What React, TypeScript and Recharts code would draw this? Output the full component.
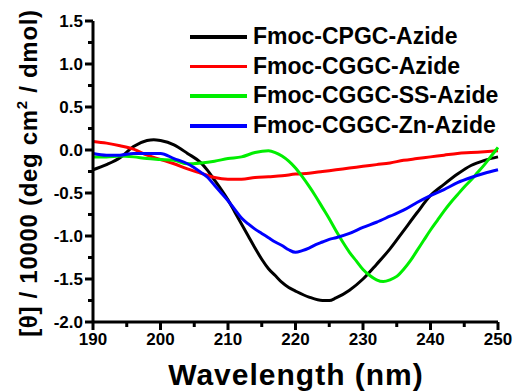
import React from 'react';
import { LineChart, Line, XAxis, YAxis, Legend } from 'recharts';

const seriesNames = ['Fmoc-CPGC-Azide', 'Fmoc-CGGC-Azide', 'Fmoc-CGGC-SS-Azide', 'Fmoc-CGGC-Zn-Azide'];
const seriesColors = ['#000000', '#ff0000', '#00ee00', '#0000ff'];

const cpgc = [
  { x: 190, y: -0.23 }, { x: 192, y: -0.17 }, { x: 194, y: -0.09 }, { x: 196, y: 0.04 }, { x: 198, y: 0.11 },
  { x: 199, y: 0.12 }, { x: 200, y: 0.11 }, { x: 202, y: 0.06 }, { x: 204, y: -0.04 }, { x: 206, y: -0.15 },
  { x: 207, y: -0.24 }, { x: 208, y: -0.35 }, { x: 209, y: -0.46 }, { x: 210, y: -0.58 }, { x: 211, y: -0.72 },
  { x: 212, y: -0.86 }, { x: 213, y: -1.0 }, { x: 214, y: -1.14 }, { x: 215, y: -1.27 }, { x: 216, y: -1.38 },
  { x: 217, y: -1.46 }, { x: 218, y: -1.54 }, { x: 219, y: -1.6 }, { x: 220, y: -1.64 }, { x: 222, y: -1.71 },
  { x: 224, y: -1.75 }, { x: 225, y: -1.75 }, { x: 226, y: -1.72 }, { x: 228, y: -1.63 }, { x: 230, y: -1.5 },
  { x: 232, y: -1.33 }, { x: 234, y: -1.15 }, { x: 236, y: -0.94 }, { x: 238, y: -0.73 }, { x: 240, y: -0.53 },
  { x: 242, y: -0.4 }, { x: 244, y: -0.28 }, { x: 246, y: -0.18 }, { x: 248, y: -0.12 }, { x: 250, y: -0.08 },
];

const cggc = [
  { x: 190, y: 0.1 }, { x: 192, y: 0.08 }, { x: 194, y: 0.05 }, { x: 196, y: 0.01 }, { x: 198, y: -0.06 },
  { x: 200, y: -0.11 }, { x: 202, y: -0.16 }, { x: 204, y: -0.22 }, { x: 206, y: -0.27 }, { x: 208, y: -0.32 },
  { x: 210, y: -0.34 }, { x: 212, y: -0.34 }, { x: 214, y: -0.32 }, { x: 216, y: -0.31 }, { x: 218, y: -0.3 },
  { x: 220, y: -0.28 }, { x: 222, y: -0.27 }, { x: 224, y: -0.25 }, { x: 226, y: -0.23 }, { x: 228, y: -0.21 },
  { x: 230, y: -0.19 }, { x: 232, y: -0.17 }, { x: 234, y: -0.15 }, { x: 236, y: -0.12 }, { x: 238, y: -0.1 },
  { x: 240, y: -0.08 }, { x: 242, y: -0.06 }, { x: 244, y: -0.04 }, { x: 246, y: -0.03 }, { x: 248, y: -0.02 },
  { x: 250, y: -0.01 },
];

const cggcSS = [
  { x: 190, y: -0.08 }, { x: 192, y: -0.08 }, { x: 194, y: -0.07 }, { x: 196, y: -0.08 }, { x: 198, y: -0.1 },
  { x: 200, y: -0.11 }, { x: 202, y: -0.12 }, { x: 204, y: -0.16 }, { x: 206, y: -0.15 }, { x: 208, y: -0.13 },
  { x: 210, y: -0.1 }, { x: 212, y: -0.08 }, { x: 214, y: -0.03 }, { x: 216, y: -0.01 }, { x: 217, y: -0.03 },
  { x: 218, y: -0.07 }, { x: 219, y: -0.13 }, { x: 220, y: -0.21 }, { x: 221, y: -0.31 }, { x: 222, y: -0.42 },
  { x: 223, y: -0.54 }, { x: 224, y: -0.67 }, { x: 225, y: -0.8 }, { x: 226, y: -0.94 }, { x: 227, y: -1.07 },
  { x: 228, y: -1.19 }, { x: 229, y: -1.29 }, { x: 230, y: -1.39 }, { x: 231, y: -1.46 }, { x: 232, y: -1.51 },
  { x: 233, y: -1.53 }, { x: 234, y: -1.51 }, { x: 235, y: -1.47 }, { x: 236, y: -1.39 }, { x: 237, y: -1.29 },
  { x: 238, y: -1.17 }, { x: 239, y: -1.05 }, { x: 240, y: -0.93 }, { x: 241, y: -0.82 }, { x: 242, y: -0.71 },
  { x: 243, y: -0.61 }, { x: 244, y: -0.52 }, { x: 245, y: -0.43 }, { x: 246, y: -0.35 }, { x: 247, y: -0.26 },
  { x: 248, y: -0.17 }, { x: 249, y: -0.07 }, { x: 250, y: 0.03 },
];

const cggcZn = [
  { x: 190, y: -0.04 }, { x: 192, y: -0.06 }, { x: 194, y: -0.06 }, { x: 196, y: -0.04 }, { x: 198, y: -0.04 },
  { x: 200, y: -0.04 }, { x: 202, y: -0.1 }, { x: 204, y: -0.16 }, { x: 206, y: -0.26 }, { x: 207, y: -0.32 },
  { x: 208, y: -0.41 }, { x: 209, y: -0.5 }, { x: 210, y: -0.59 }, { x: 211, y: -0.69 }, { x: 212, y: -0.79 },
  { x: 213, y: -0.86 }, { x: 214, y: -0.92 }, { x: 215, y: -0.97 }, { x: 216, y: -1.02 }, { x: 217, y: -1.07 },
  { x: 218, y: -1.11 }, { x: 219, y: -1.16 }, { x: 220, y: -1.19 }, { x: 221, y: -1.17 }, { x: 222, y: -1.14 },
  { x: 223, y: -1.1 }, { x: 224, y: -1.07 }, { x: 225, y: -1.04 }, { x: 226, y: -1.02 }, { x: 228, y: -0.97 },
  { x: 230, y: -0.9 }, { x: 232, y: -0.84 }, { x: 234, y: -0.77 }, { x: 236, y: -0.7 }, { x: 238, y: -0.61 },
  { x: 240, y: -0.53 }, { x: 242, y: -0.46 }, { x: 244, y: -0.38 }, { x: 246, y: -0.32 }, { x: 248, y: -0.27 },
  { x: 250, y: -0.23 },
];

const seriesData = [cpgc, cggc, cggcSS, cggcZn];

const xTicks = [190, 195, 200, 205, 210, 215, 220, 225, 230, 235, 240, 245, 250];
const yTicks = [-2, -1.75, -1.5, -1.25, -1, -0.75, -0.5, -0.25, 0, 0.25, 0.5, 0.75, 1, 1.25, 1.5];

const FONT = "Arial, 'Liberation Sans', sans-serif";

const XTick = (props: any) => {
  const { x, y, payload } = props;
  const v = payload.value;
  const major = v % 10 === 0;
  return (
    <g>
      <line x1={x} x2={x} y1={y} y2={y + (major ? 8 : 5)} stroke="#000" strokeWidth={3} />
      {major && (
        <text x={x} y={y + 23} textAnchor="middle" fontFamily={FONT} fontWeight="bold" fontSize={17} fill="#000">
          {v}
        </text>
      )}
    </g>
  );
};

const YTick = (props: any) => {
  const { x, y, payload } = props;
  const v = payload.value;
  const major = Math.abs(v * 2 - Math.round(v * 2)) < 1e-6;
  return (
    <g>
      <line x1={x} x2={x - (major ? 8 : 5)} y1={y} y2={y} stroke="#000" strokeWidth={3} />
      {major && (
        <text x={x - 10} y={y} dy="0.36em" textAnchor="end" fontFamily={FONT} fontWeight="bold" fontSize={17} fill="#000">
          {v.toFixed(1)}
        </text>
      )}
    </g>
  );
};

const renderLegend = (props: any) => {
  const payload = [...(props.payload || [])].sort(
    (a: any, b: any) => seriesNames.indexOf(a.value) - seriesNames.indexOf(b.value)
  );
  return (
    <div style={{ fontFamily: FONT, fontWeight: 'bold', fontSize: 23 }}>
      {payload.map((p: any, i: number) => (
        <div key={i} style={{ display: 'flex', alignItems: 'center', height: 29.7 }}>
          <div style={{ width: 57, height: 3.5, background: p.color, marginRight: 6 }} />
          <span style={{ lineHeight: '29.7px', color: '#000', whiteSpace: 'nowrap' }}>{p.value}</span>
        </div>
      ))}
    </div>
  );
};

const YLabel = () => (
  <text transform="translate(37,173) rotate(-90)" textAnchor="middle" fontFamily={FONT} fontWeight="bold" fontSize={24} letterSpacing={0.7} fill="#000">
    [θ] / 10000 (deg cm<tspan fontSize={15} dy={-10}>2</tspan>
    <tspan dy={10}> / dmol)</tspan>
  </text>
);

const XLabel = () => (
  <text x={296} y={385} textAnchor="middle" fontFamily={FONT} fontWeight="bold" fontSize={30} letterSpacing={1} fill="#000">
    Wavelength (nm)
  </text>
);

export default function App() {
  return (
    <div style={{ position: 'absolute', left: 0, top: 0, width: 513, height: 392, background: '#fff' }}>
      <LineChart width={513} height={392} margin={{ top: 21, right: 15, bottom: 0, left: 0 }}>
        <XAxis
          type="number"
          dataKey="x"
          domain={[190, 250]}
          ticks={xTicks}
          interval={0}
          tickSize={0}
          tickMargin={0}
          tickLine={false}
          tick={<XTick />}
          height={70}
          axisLine={{ stroke: '#000', strokeWidth: 3 }}
          allowDuplicatedCategory={false}
          label={{ content: () => <XLabel /> }}
        />
        <YAxis
          type="number"
          dataKey="y"
          domain={[-2, 1.5]}
          ticks={yTicks}
          interval={0}
          tickSize={0}
          tickMargin={0}
          tickLine={false}
          tick={<YTick />}
          width={93}
          axisLine={{ stroke: '#000', strokeWidth: 3 }}
          label={{ content: () => <YLabel /> }}
        />
        <Legend
          layout="vertical"
          verticalAlign="middle"
          align="center"
          content={renderLegend}
          wrapperStyle={{ left: 190, top: 22, width: 320 }}
        />
        {seriesData.map((d, i) => (
          <Line
            key={seriesNames[i]}
            data={d}
            dataKey="y"
            name={seriesNames[i]}
            type="monotone"
            stroke={seriesColors[i]}
            strokeWidth={3}
            dot={false}
            activeDot={false}
            isAnimationActive={false}
          />
        ))}
      </LineChart>
    </div>
  );
}
